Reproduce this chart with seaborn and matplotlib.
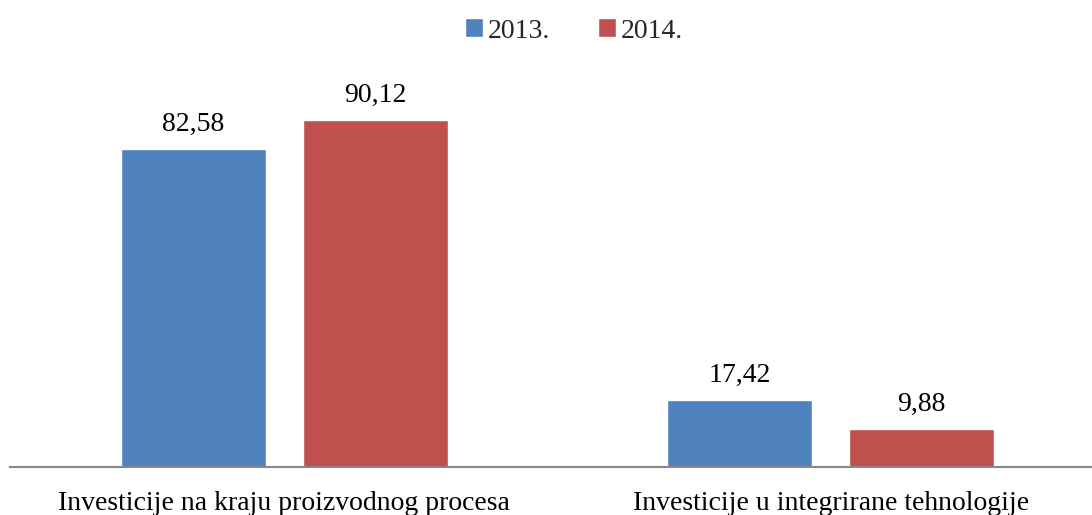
import matplotlib
matplotlib.use("Agg")
import matplotlib.pyplot as plt
import seaborn as sns
import pandas as pd

categories = ["Investicije na kraju proizvodnog procesa", "Investicije u integrirane tehnologije"]
years = ["2013.", "2014."]
values_2013 = [82.58, 17.42]
values_2014 = [90.12, 9.88]
colors = ["#4F81BD", "#C0504D"]

df = pd.DataFrame({
    "category": categories * 2,
    "year": [years[0]] * 2 + [years[1]] * 2,
    "value": values_2013 + values_2014,
})

sns.set_theme(style="white")
plt.rcParams["font.family"] = ["Liberation Serif", "DejaVu Serif"]

fig = plt.figure(figsize=(10.92, 5.15), dpi=100)
ax = fig.add_axes([10 / 1092, 48 / 515, 1 - 10 / 1092, 385 / 515])

sns.barplot(data=df, x="category", y="value", hue="year", order=categories,
            hue_order=years, palette=colors, width=0.666, gap=0.204,
            saturation=1, ax=ax, legend=True)

for cont in ax.containers:
    ax.bar_label(cont, labels=[f"{v:.2f}".replace(".", ",") for v in cont.datavalues],
                 padding=8.5, fontsize=20, color="black")

ax.set_xlim(-0.502, 1.478)
ax.set_ylim(0, 100)
ax.set_xlabel("")
ax.set_ylabel("")
ax.set_yticks([])
for s in ["top", "right", "left"]:
    ax.spines[s].set_visible(False)
ax.spines["bottom"].set_color("#888888")
ax.spines["bottom"].set_linewidth(1.5)
ax.tick_params(axis="x", length=0, pad=17.5, labelsize=20, labelcolor="black")

leg = ax.legend(loc="center", bbox_to_anchor=(574 / 1092, 1 - 31 / 515),
                bbox_transform=fig.transFigure, ncol=2, frameon=False,
                fontsize=20, handlelength=0.65, handleheight=0.65,
                handletextpad=0.15, columnspacing=1.75)

fig.savefig("out.png", dpi=100)
